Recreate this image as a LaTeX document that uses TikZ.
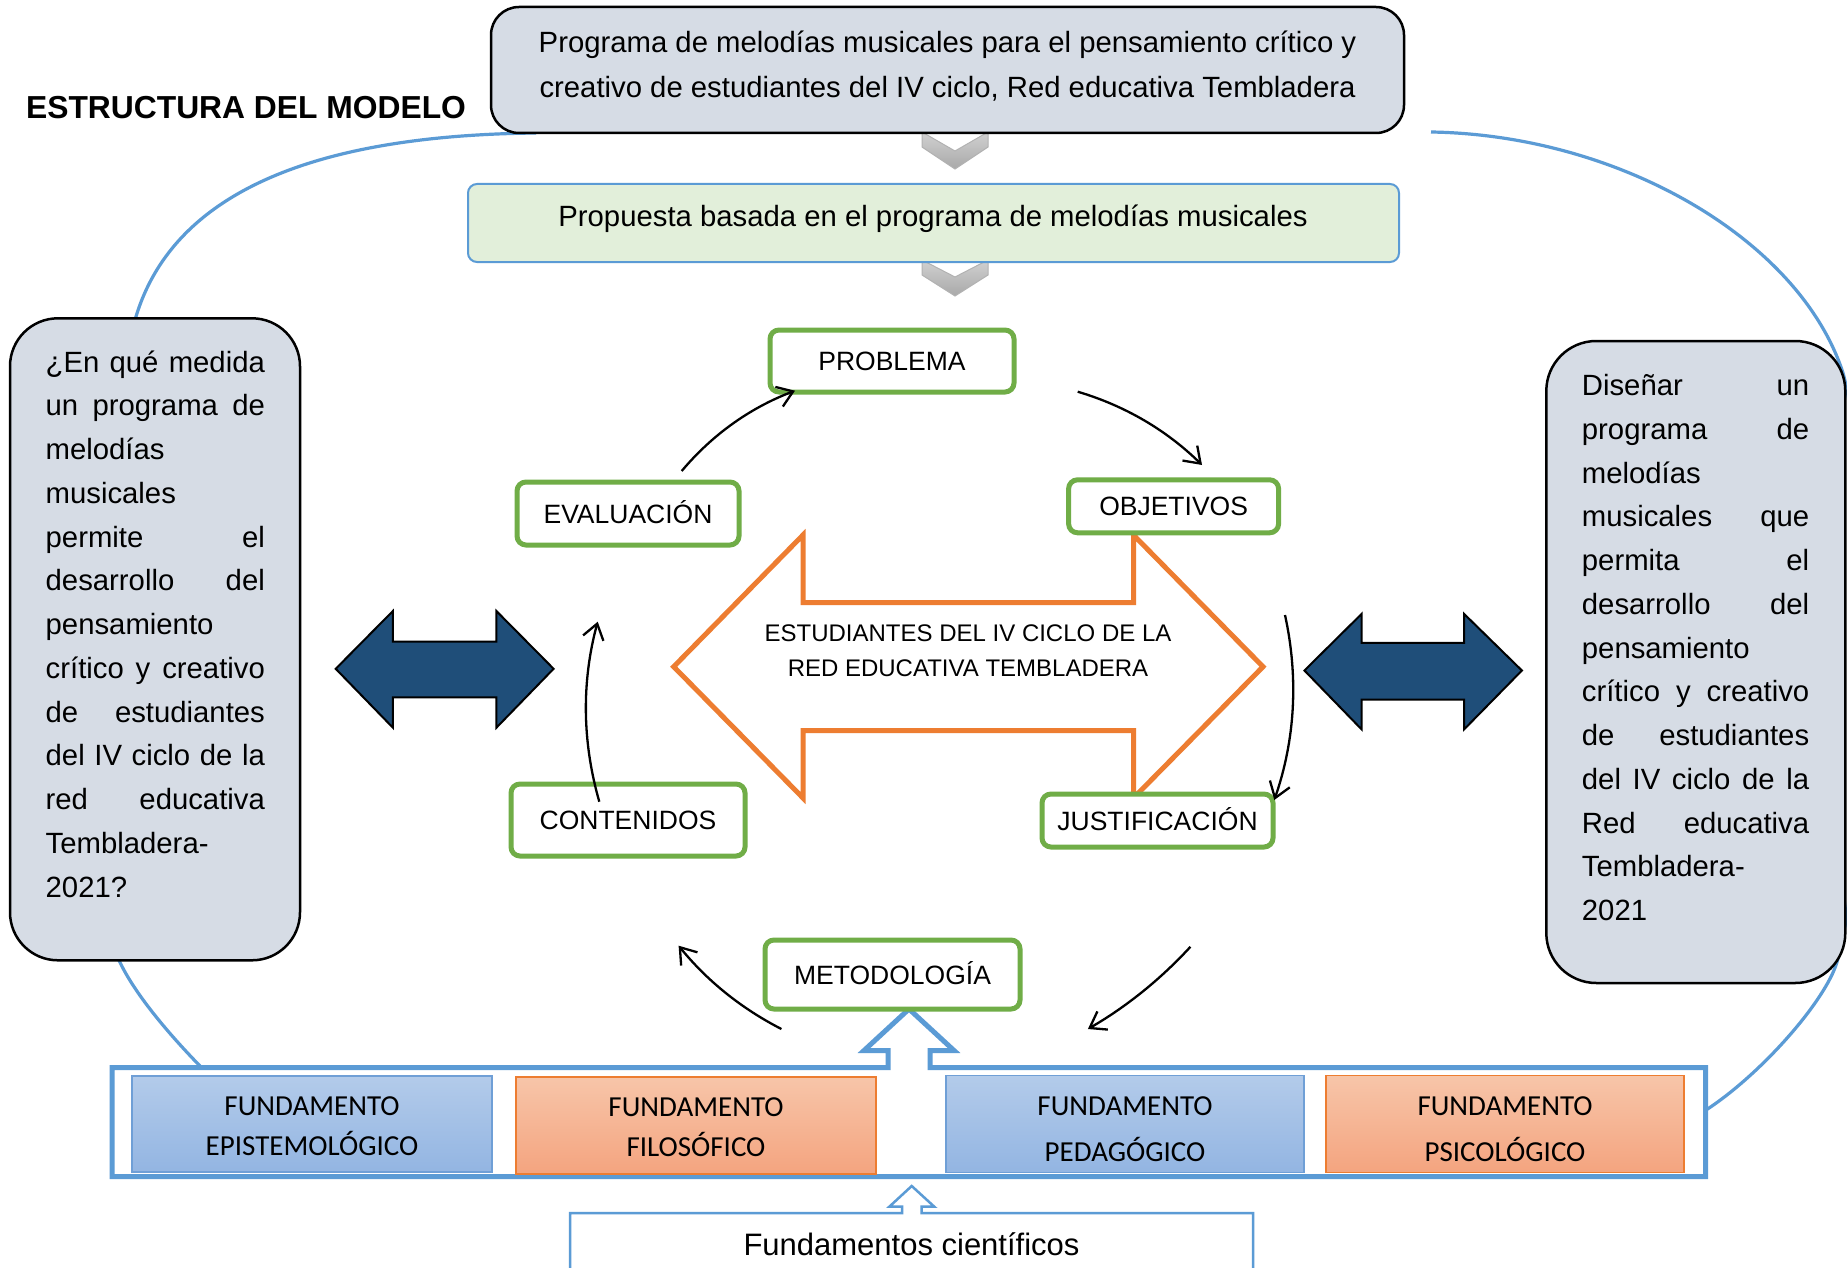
\documentclass[tikz,border=0pt]{standalone}
\usepackage{fontspec}
\setmainfont{Liberation Sans}
\newfontfamily\calib{Carlito}
\usetikzlibrary{arrows.meta}
\definecolor{boxgray}{HTML}{D6DCE5}
\definecolor{lgreen}{HTML}{E2EFDA}
\definecolor{gborder}{HTML}{70AD47}
\definecolor{orng}{HTML}{ED7D31}
\definecolor{bline}{HTML}{5B9BD5}
\definecolor{dblue}{HTML}{1F4E79}
\definecolor{fbtop}{HTML}{B3CBEA}
\definecolor{fbbot}{HTML}{93B5E2}
\definecolor{fbedge}{HTML}{6F9FD6}
\definecolor{fotop}{HTML}{F7C5A9}
\definecolor{fobot}{HTML}{F4A47F}
\newcommand\twolines[2]{\vtop{\halign{\hfil##\hfil\cr#1\cr#2\cr}}}
\newcommand\jl[1]{\hbox to\hsize{#1}}
\begin{document}
\begin{tikzpicture}[x=1pt,y=-1pt,
  graybox/.style={draw=black, line width=2.5pt, fill=boxgray, inner sep=0pt},
  gnode/.style={draw=gborder, line width=5pt, rounded corners=9pt, fill=white, inner sep=0pt,
     font=\fontsize{26.5}{30}\selectfont, text height=19pt, text depth=0pt},
  chev/.style={top color=black!18, bottom color=black!34, draw=black!30, line width=1pt},
  darrow/.style={fill=dblue, draw=black, line width=2pt},
  oarrow/.style={draw=orng, fill=white, line width=5pt},
  carrow/.style={draw=black, line width=2.3pt, -{Straight Barb[length=15pt,width=21pt,line width=2.3pt]}},
  blueline/.style={draw=bline, line width=3.2pt},
  bluebar/.style={draw=bline, fill=white, line width=5pt},
  fbblue/.style={top color=fbtop, bottom color=fbbot, draw=fbedge, line width=1.5pt, inner sep=0pt},
  fborange/.style={top color=fotop, bottom color=fobot, draw=orng, line width=1.5pt, inner sep=0pt},
  bodyfont/.style={font=\fontsize{29.3}{44.5}\selectfont},
  fbtext/.style={inner sep=0pt, anchor=base}
]
\useasboundingbox (0,0) rectangle (1847,1268);
\clip (0,0) rectangle (1847,1268);
\fill[white] (0,0) rectangle (1847,1268);

% blue oval (visible parts)
\draw[blueline] (536,133) .. controls (340,135) and (175,180) .. (135,320);
\draw[blueline] (118,958) .. controls (132,990) and (165,1030) .. (200,1066);
\draw[blueline] (1431,132) .. controls (1620,135) and (1800,240) .. (1843,373)
   .. controls (1870,470) and (1868,860) .. (1837,962)
   .. controls (1825,1002) and (1760,1075) .. (1706,1110);

% chevrons
\draw[chev] (922,132) -- (955,151) -- (988,132) -- (988,147) -- (955,169) -- (922,147) -- cycle;
\draw[chev] (922,260) -- (955,277) -- (988,260) -- (988,275) -- (955,296) -- (922,275) -- cycle;

% top boxes
\node[graybox, rounded corners=28pt, minimum width=913pt, minimum height=126pt] (topbox) at (947.5,70) {};
\node[draw=bline, line width=2pt, fill=lgreen, rounded corners=9pt, inner sep=0pt,
      minimum width=931pt, minimum height=78pt] (propbox) at (933.5,223) {};

% side boxes
\node[graybox, rounded corners=48pt, minimum width=290pt, minimum height=642pt] (leftbox) at (155,639.3) {};
\node[graybox, rounded corners=50pt, minimum width=299pt, minimum height=642pt] (rightbox) at (1695.8,662) {};

% orange double arrow
\draw[oarrow] (673.7,666.7) -- (803,535) -- (803,602.7) -- (1133.5,602.7) -- (1133.5,535)
   -- (1263,666.7) -- (1133.5,798) -- (1133.5,730.7) -- (803,730.7) -- (803,798) -- cycle;

% dark blue double arrows
\draw[darrow] (335.7,668.8) -- (392.9,611) -- (392.9,641.5) -- (496.4,641.5) -- (496.4,611)
   -- (553.6,668.8) -- (496.4,727.7) -- (496.4,697.3) -- (392.9,697.3) -- (392.9,727.7) -- cycle;
\draw[darrow] (1304.4,670.5) -- (1361.7,613.8) -- (1361.7,642.9) -- (1464,642.9) -- (1464,613.8)
   -- (1521.9,670.5) -- (1464,729.5) -- (1464,699.6) -- (1361.7,699.6) -- (1361.7,729.5) -- cycle;

% bar with hollow arrow
\draw[bluebar] (112,1067.5) -- (888,1067.5) -- (888,1050.5) -- (864,1050.5) -- (909,1009)
   -- (954,1050.5) -- (930,1050.5) -- (930,1067.5) -- (1705.5,1067.5) -- (1705.5,1176.7)
   -- (112,1176.7) -- cycle;

% cycle nodes
\node[gnode, minimum width=244pt, minimum height=62pt] (prob) at (892,361) {PROBLEMA};
\node[gnode, minimum width=222pt, minimum height=63pt] (eval) at (628,513.5) {EVALUACIÓN};
\node[gnode, minimum width=210pt, minimum height=53pt] (obj) at (1173.6,506.3) {OBJETIVOS};
\node[gnode, minimum width=234pt, minimum height=72pt] (cont) at (628,820) {CONTENIDOS};
\node[gnode, minimum width=231pt, minimum height=53pt] (just) at (1157.5,820.5) {JUSTIFICACIÓN};
\node[gnode, minimum width=255pt, minimum height=69pt] (meto) at (892.5,974.5) {METODOLOGÍA};

% curved arrows
\coordinate (c1s) at (681.7,471);   \coordinate (c1e) at (795,390.7);
\coordinate (c2s) at (1077.7,391.7); \coordinate (c2e) at (1202,465);
\coordinate (c3s) at (1285,615);    \coordinate (c3e) at (1274.3,800);
\coordinate (c4s) at (1190.4,946.8); \coordinate (c4e) at (1087.9,1029);
\coordinate (c5s) at (781.4,1029);  \coordinate (c5e) at (678.6,945.7);
\coordinate (c6s) at (599.3,801.7); \coordinate (c6e) at (597.7,621.7);
\draw[carrow] (c1s) .. controls (712.5,434.4) and (750.3,407.7) .. (c1e);
\draw[carrow] (c2s) .. controls (1125.2,405.8) and (1166.7,430.3) .. (c2e);
\draw[carrow] (c3s) .. controls (1298.7,677.7) and (1295.2,739.3) .. (c3e);
\draw[carrow] (c4s) .. controls (1160.4,979.4) and (1126.3,1006.8) .. (c4e);
\draw[carrow] (c5s) .. controls (741.2,1008.4) and (707,980.7) .. (c5e);
\draw[carrow] (c6s) .. controls (582.1,741.7) and (581.5,681.7) .. (c6e);

% fundamento boxes
\node[fbblue, minimum width=360pt, minimum height=96pt] (fepi) at (312,1124.2) {};
\node[fborange, minimum width=360pt, minimum height=97pt] (ffil) at (696,1125.5) {};
\node[fbblue, minimum width=358pt, minimum height=97pt] (fped) at (1125,1123.9) {};
\node[fborange, minimum width=358pt, minimum height=97pt] (fpsi) at (1505,1124.2) {};
\node[fbtext, font=\calib\fontsize{29}{40}\selectfont] (tepi) at (312,1115) {\twolines{FUNDAMENTO}{EPISTEMOLÓGICO}};
\node[fbtext, font=\calib\fontsize{29}{40.5}\selectfont] (tfil) at (696,1116) {\twolines{FUNDAMENTO}{FILOSÓFICO}};
\node[fbtext, font=\calib\fontsize{29}{46}\selectfont] (tped) at (1125,1115) {\twolines{FUNDAMENTO}{PEDAGÓGICO}};
\node[fbtext, font=\calib\fontsize{29}{46.5}\selectfont] (tpsi) at (1505,1115) {\twolines{FUNDAMENTO}{PSICOLÓGICO}};

% bottom box with small hollow arrow
\draw[draw=bline, fill=white, line width=2.5pt] (570,1280) -- (570,1213) -- (902,1213) -- (902,1206.7)
   -- (889.3,1206.7) -- (911.7,1186) -- (934.3,1206.7) -- (921.7,1206.7) -- (921.7,1213)
   -- (1253,1213) -- (1253,1280);
\node[inner sep=0pt, anchor=base, font=\fontsize{31}{36}\selectfont] (fcien) at (911.5,1255) {Fundamentos científicos};

% texts
\node[inner sep=0pt, anchor=base west, font=\fontsize{31.8}{36}\selectfont\bfseries] (title) at (25.9,118.3) {ESTRUCTURA DEL MODELO};
\node[inner sep=0pt, anchor=base, bodyfont] (toptext) at (947.5,52.7)
  {\twolines{Programa de melodías musicales para el pensamiento crítico y}{creativo de estudiantes del IV ciclo, Red educativa Tembladera}};
\node[inner sep=0pt, anchor=base, bodyfont] (proptext) at (933,226) {Propuesta basada en el programa de melodías musicales};
\node[inner sep=0pt, anchor=base, font=\fontsize{24}{35}\selectfont] (studtext) at (968,641.7)
  {\twolines{ESTUDIANTES DEL IV CICLO DE LA}{RED EDUCATIVA TEMBLADERA}};

\node[inner sep=0pt, anchor=base west, font=\fontsize{29.3}{43.75}\selectfont] (lefttext) at (45.5,372)
 {\vtop{\hsize=219.2pt
  \jl{¿En\hfill qué\hfill medida}
  \jl{un\hfill programa\hfill de}
  \hbox{melodías}
  \hbox{musicales}
  \jl{permite\hfill el}
  \jl{desarrollo\hfill del}
  \hbox{pensamiento}
  \jl{crítico\hfill y\hfill creativo}
  \jl{de\hfill estudiantes}
  \jl{del\hfill IV\hfill ciclo\hfill de\hfill la}
  \jl{red\hfill educativa}
  \hbox{Tembladera-}
  \hbox{2021?}}};

\node[inner sep=0pt, anchor=base west, font=\fontsize{29.3}{43.75}\selectfont] (righttext) at (1581.7,395.5)
 {\vtop{\hsize=227.3pt
  \jl{Diseñar\hfill un}
  \jl{programa\hfill de}
  \hbox{melodías}
  \jl{musicales\hfill que}
  \jl{permita\hfill el}
  \jl{desarrollo\hfill del}
  \hbox{pensamiento}
  \jl{crítico\hfill y\hfill creativo}
  \jl{de\hfill estudiantes}
  \jl{del\hfill IV\hfill ciclo\hfill de\hfill la}
  \jl{Red\hfill educativa}
  \hbox{Tembladera-}
  \hbox{2021}}};
\end{tikzpicture}
\end{document}
